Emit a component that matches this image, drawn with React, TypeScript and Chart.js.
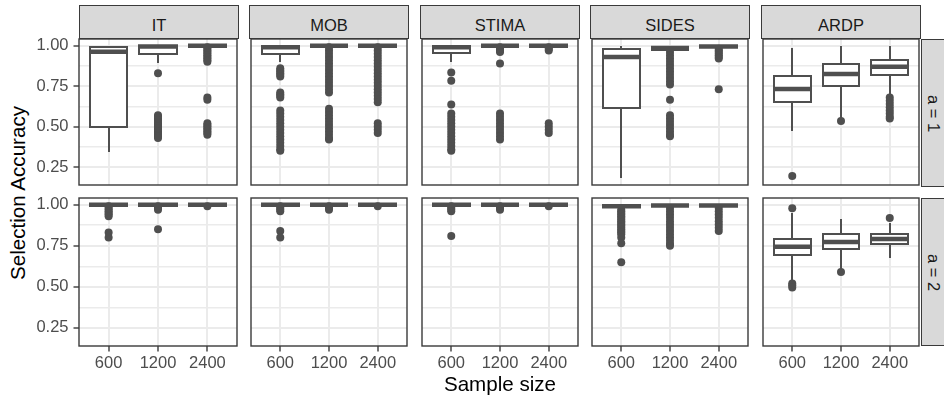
import React, { useEffect, useRef } from "react";
import { Chart, registerables } from "chart.js";

Chart.register(...registerables);

// ---------------- data ----------------
const methods = ["IT", "MOB", "STIMA", "SIDES", "ARDP"];
const sampleSizes = ["600", "1200", "2400"];
const rowLabels = ["a = 1", "a = 2"];
const xTitle = "Sample size";
const yTitle = "Selection Accuracy";
const yMajorTicks = [0.25, 0.5, 0.75, 1.0];
const yMinorTicks = [0.375, 0.625, 0.875];
const yAxisMin = 0.139;
const yAxisMax = 1.041;

// five-number summaries, per method (IT, MOB, STIMA, SIDES, ARDP) x sample size (600, 1200, 2400)
// a = 1
const lowA1 = [[0.34, 0.895, 1.0], [0.9, 1.0, 1.0], [0.9, 1.0, 1.0], [0.18, 0.965, 0.985], [0.47, 0.545, 0.7]];
const q1A1 = [[0.5, 0.95, 1.0], [0.95, 1.0, 1.0], [0.955, 1.0, 1.0], [0.615, 0.975, 0.99], [0.653, 0.749, 0.819]];
const medA1 = [[0.962, 0.995, 1.0], [0.99, 1.0, 1.0], [0.99, 1.0, 1.0], [0.93, 0.985, 0.995], [0.732, 0.824, 0.87]];
const q3A1 = [[0.99, 1.0, 1.0], [0.996, 1.0, 1.0], [0.998, 1.0, 1.0], [0.98, 0.99, 1.0], [0.811, 0.886, 0.911]];
const highA1 = [[1.0, 1.0, 1.0], [1.0, 1.0, 1.0], [1.0, 1.0, 1.0], [1.0, 1.0, 1.0], [0.986, 1.0, 1.0]];
// a = 2
const lowA2 = [[1.0, 1.0, 1.0], [1.0, 1.0, 1.0], [1.0, 1.0, 1.0], [0.98, 0.985, 0.985], [0.532, 0.602, 0.678]];
const q1A2 = [[1.0, 1.0, 1.0], [1.0, 1.0, 1.0], [1.0, 1.0, 1.0], [0.985, 0.99, 0.99], [0.694, 0.73, 0.759]];
const medA2 = [[1.0, 1.0, 1.0], [1.0, 1.0, 1.0], [1.0, 1.0, 1.0], [0.99, 0.995, 0.995], [0.744, 0.773, 0.791]];
const q3A2 = [[1.0, 1.0, 1.0], [1.0, 1.0, 1.0], [1.0, 1.0, 1.0], [0.995, 1.0, 1.0], [0.793, 0.82, 0.824]];
const highA2 = [[1.0, 1.0, 1.0], [1.0, 1.0, 1.0], [1.0, 1.0, 1.0], [1.0, 1.0, 1.0], [0.947, 0.911, 0.89]];

// outliers (a = 1), per sample size
const outA1IT = [
  [],
  [0.83, 0.57, 0.56, 0.55, 0.54, 0.53, 0.52, 0.51, 0.5, 0.49, 0.48, 0.47, 0.46, 0.45, 0.44, 0.43],
  [0.99, 0.98, 0.97, 0.96, 0.95, 0.94, 0.93, 0.92, 0.91, 0.9, 0.68, 0.665, 0.52, 0.51, 0.5, 0.49, 0.48, 0.47, 0.46, 0.45],
];
const outA1MOB = [
  [0.86, 0.85, 0.84, 0.83, 0.82, 0.81, 0.71, 0.7, 0.69, 0.68, 0.6, 0.58, 0.56, 0.54, 0.52, 0.5, 0.48, 0.46, 0.44, 0.42, 0.4, 0.38, 0.36, 0.35],
  [0.99, 0.97, 0.95, 0.93, 0.91, 0.89, 0.87, 0.85, 0.83, 0.81, 0.79, 0.77, 0.75, 0.73, 0.71, 0.61, 0.59, 0.57, 0.55, 0.53, 0.51, 0.49, 0.47, 0.45, 0.43, 0.42],
  [0.99, 0.97, 0.95, 0.93, 0.91, 0.89, 0.87, 0.85, 0.83, 0.81, 0.79, 0.77, 0.75, 0.73, 0.71, 0.69, 0.67, 0.65, 0.52, 0.5, 0.48, 0.46],
];
const outA1STIMA = [
  [0.834, 0.783, 0.637, 0.58, 0.56, 0.54, 0.52, 0.5, 0.48, 0.46, 0.44, 0.42, 0.4, 0.38, 0.36, 0.35],
  [0.99, 0.98, 0.97, 0.96, 0.89, 0.58, 0.56, 0.54, 0.52, 0.5, 0.48, 0.46, 0.44, 0.42],
  [0.99, 0.98, 0.97, 0.52, 0.5, 0.48, 0.46],
];
const outA1SIDES = [
  [],
  [0.96, 0.94, 0.92, 0.9, 0.88, 0.86, 0.84, 0.82, 0.8, 0.78, 0.76, 0.665, 0.57, 0.55, 0.53, 0.51, 0.49, 0.47, 0.45, 0.44],
  [0.98, 0.97, 0.96, 0.95, 0.94, 0.93, 0.92, 0.73],
];
const outA1ARDP = [[0.195], [0.535], [0.68, 0.66, 0.64, 0.62, 0.6, 0.58, 0.56, 0.55]];

// outliers (a = 2)
const outA2IT = [[0.99, 0.98, 0.97, 0.96, 0.95, 0.94, 0.93, 0.83, 0.8], [0.99, 0.98, 0.97, 0.85], [0.99]];
const outA2MOB = [[0.99, 0.98, 0.97, 0.96, 0.84, 0.8], [0.99, 0.98, 0.97], [0.99]];
const outA2STIMA = [[0.99, 0.98, 0.97, 0.96, 0.81], [0.99, 0.98, 0.97], [0.99]];
const outA2SIDES = [
  [0.97, 0.96, 0.95, 0.94, 0.93, 0.92, 0.91, 0.9, 0.89, 0.88, 0.87, 0.86, 0.85, 0.84, 0.83, 0.82, 0.8, 0.765, 0.65],
  [0.98, 0.96, 0.94, 0.92, 0.9, 0.88, 0.86, 0.84, 0.82, 0.8, 0.78, 0.76, 0.75],
  [0.98, 0.96, 0.94, 0.92, 0.9, 0.88, 0.86, 0.84],
];
const outA2ARDP = [[0.978, 0.52, 0.51, 0.495], [0.59], [0.919]];

const facetRows = [
  { low: lowA1, q1: q1A1, med: medA1, q3: q3A1, high: highA1, out: [outA1IT, outA1MOB, outA1STIMA, outA1SIDES, outA1ARDP] },
  { low: lowA2, q1: q1A2, med: medA2, q3: q3A2, high: highA2, out: [outA2IT, outA2MOB, outA2STIMA, outA2SIDES, outA2ARDP] },
];

// ---------------- style / layout ----------------
const FONT = "'Liberation Sans', Arial, Helvetica, sans-serif";
const INK = "#4f4f4f";
const BORDER = "#3a3a3a";
const GRID = "#EBEBEB";
const TICK_TEXT = "#4D4D4D";
const STRIP_FILL = "#D9D9D9";
const TICK_FONT = 16.5;
const TITLE_FONT = 20.6;

const PANEL_LEFTS = [79, 249, 420, 590, 761];
const PANEL_W = 160;
const PANEL_TOPS = [39, 198];
const PANEL_H = 148;
const STRIP_TOP = 5;
const STRIP_H = 34;
const RIGHT_STRIP_W = 24;
const Y_AXIS_LEFT = 30;
const X_AXIS_H = 36;
const TOP_PAD = 14;
const EDGE = 2;
const BOX_HALF = 0.375;

const isMajor = (v: number) => yMajorTicks.some((t) => Math.abs(t - v) < 1e-9);
const yGridValues = [...yMajorTicks, ...yMinorTicks].sort((a, b) => a - b);

function makeBoxPlugin(r: number, c: number) {
  const fr = facetRows[r];
  return {
    id: "boxes",
    afterDatasetsDraw(chart: any) {
      const { ctx, chartArea: a } = chart;
      const xs = chart.scales.x;
      const ys = chart.scales.y;
      const px = (v: number) => Math.round(xs.getPixelForValue(v));
      const py = (v: number) => Math.round(ys.getPixelForValue(v));
      ctx.save();
      ctx.beginPath();
      ctx.rect(a.left, a.top, a.right - a.left, a.bottom - a.top);
      ctx.clip();
      ctx.strokeStyle = INK;
      ctx.lineCap = "butt";
      for (let i = 0; i < sampleSizes.length; i++) {
        const cx = px(i + 1);
        const xl = px(i + 1 - BOX_HALF);
        const xr = px(i + 1 + BOX_HALF);
        const yLo = py(fr.low[c][i]);
        const yQ1 = py(fr.q1[c][i]);
        const yMed = ys.getPixelForValue(fr.med[c][i]);
        const yQ3 = py(fr.q3[c][i]);
        const yHi = py(fr.high[c][i]);
        ctx.lineWidth = 2;
        ctx.beginPath();
        ctx.moveTo(cx, yHi);
        ctx.lineTo(cx, yQ3);
        ctx.moveTo(cx, yQ1);
        ctx.lineTo(cx, yLo);
        ctx.stroke();
        ctx.fillStyle = "#ffffff";
        ctx.fillRect(xl, yQ3, xr - xl, yQ1 - yQ3);
        ctx.strokeRect(xl, yQ3, xr - xl, yQ1 - yQ3);
        ctx.lineWidth = 4.5;
        ctx.beginPath();
        ctx.moveTo(xl - 1, yMed);
        ctx.lineTo(xr + 1, yMed);
        ctx.stroke();
      }
      ctx.restore();
      ctx.save();
      ctx.strokeStyle = BORDER;
      ctx.lineWidth = 1.4;
      ctx.strokeRect(a.left, a.top, a.right - a.left, a.bottom - a.top);
      ctx.restore();
    },
  };
}

function Panel({ r, c }: { r: number; c: number }) {
  const ref = useRef<HTMLCanvasElement>(null);
  const showY = c === 0;
  const showX = r === facetRows.length - 1;
  const left = showY ? Y_AXIS_LEFT : PANEL_LEFTS[c] - EDGE;
  const top = PANEL_TOPS[r] - TOP_PAD;
  const right = PANEL_LEFTS[c] + PANEL_W + EDGE;
  const bottom = PANEL_TOPS[r] + PANEL_H + (showX ? X_AXIS_H : EDGE);
  const w = right - left;
  const h = bottom - top;

  useEffect(() => {
    const outs = facetRows[r].out[c];
    const points: { x: number; y: number }[] = [];
    outs.forEach((vals, i) => vals.forEach((v) => points.push({ x: i + 1, y: v })));
    const chart = new Chart(ref.current as HTMLCanvasElement, {
      type: "scatter",
      data: {
        datasets: [
          {
            data: points,
            pointRadius: 4,
            pointHoverRadius: 4,
            pointBackgroundColor: INK,
            pointBorderWidth: 0,
            borderWidth: 0,
          } as any,
        ],
      },
      options: {
        responsive: false,
        animation: false,
        events: [],
        layout: {
          padding: { left: showY ? 0 : EDGE, right: EDGE, top: TOP_PAD, bottom: showX ? 0 : EDGE },
        },
        plugins: { legend: { display: false }, tooltip: { enabled: false } },
        scales: {
          x: {
            type: "linear",
            min: 0.4,
            max: 3.6,
            afterBuildTicks: (s: any) => {
              s.ticks = sampleSizes.map((_, i) => ({ value: i + 1 }));
            },
            afterFit: (s: any) => {
              s.height = showX ? X_AXIS_H : 0;
              s.paddingLeft = 0;
              s.paddingRight = 0;
            },
            border: { display: false },
            grid: {
              color: GRID,
              lineWidth: 2,
              drawTicks: showX,
              tickLength: 5.5,
              tickColor: BORDER,
              tickWidth: 1.4,
            },
            ticks: {
              display: showX,
              autoSkip: false,
              maxRotation: 0,
              padding: 2,
              color: TICK_TEXT,
              font: { family: FONT, size: TICK_FONT },
              callback: (v: any) => sampleSizes[Math.round(Number(v)) - 1] ?? "",
            },
          },
          y: {
            type: "linear",
            min: yAxisMin,
            max: yAxisMax,
            afterBuildTicks: (s: any) => {
              s.ticks = yGridValues.map((v) => ({ value: v }));
            },
            afterFit: (s: any) => {
              s.width = showY ? PANEL_LEFTS[0] - Y_AXIS_LEFT : 0;
              s.paddingTop = 0;
              s.paddingBottom = 0;
            },
            border: { display: false },
            grid: {
              color: GRID,
              lineWidth: (ctx: any) => (isMajor(ctx.tick.value) ? 2 : 1.5),
              drawTicks: showY,
              tickLength: 5.5,
              tickColor: (ctx: any) => (isMajor(ctx.tick.value) ? BORDER : "rgba(0,0,0,0)"),
              tickWidth: (ctx: any) => (isMajor(ctx.tick.value) ? 1.4 : 0),
            } as any,
            ticks: {
              display: showY,
              autoSkip: false,
              padding: 5,
              color: TICK_TEXT,
              font: { family: FONT, size: TICK_FONT },
              callback: (v: any) => (isMajor(Number(v)) ? Number(v).toFixed(2) : ""),
            },
          },
        },
      } as any,
      plugins: [makeBoxPlugin(r, c)],
    });
    return () => chart.destroy();
  }, [r, c]);

  return (
    <canvas
      ref={ref}
      width={w}
      height={h}
      style={{ position: "absolute", left, top, width: w, height: h }}
    />
  );
}

export default function App() {
  return (
    <div
      style={{
        position: "absolute",
        left: 0,
        top: 0,
        width: 944,
        height: 403,
        overflow: "hidden",
        background: "#ffffff",
        fontFamily: FONT,
      }}
    >
      {methods.map((m, c) => (
        <div
          key={"strip" + m}
          style={{
            position: "absolute",
            left: PANEL_LEFTS[c],
            top: STRIP_TOP,
            width: PANEL_W,
            height: STRIP_H,
            boxSizing: "border-box",
            background: STRIP_FILL,
            border: "1px solid " + BORDER,
            color: "#1A1A1A",
            fontSize: TICK_FONT,
            display: "flex",
            alignItems: "center",
            justifyContent: "center",
            paddingTop: 7,
          }}
        >
          {m}
        </div>
      ))}
      {rowLabels.map((lab, r) => (
        <div
          key={"rstrip" + r}
          style={{
            position: "absolute",
            left: PANEL_LEFTS[4] + PANEL_W,
            top: PANEL_TOPS[r],
            width: RIGHT_STRIP_W,
            height: PANEL_H,
            boxSizing: "border-box",
            background: STRIP_FILL,
            borderTop: "1px solid " + BORDER,
            borderBottom: "1px solid " + BORDER,
            borderLeft: "1px solid " + BORDER,
            color: "#1A1A1A",
            fontSize: TICK_FONT,
            display: "flex",
            alignItems: "center",
            justifyContent: "center",
          }}
        >
          <span style={{ transform: "rotate(90deg)", whiteSpace: "nowrap", display: "inline-block" }}>{lab}</span>
        </div>
      ))}
      {facetRows.map((_, r) =>
        methods.map((m, c) => <Panel key={m + r} r={r} c={c} />)
      )}
      <div
        style={{
          position: "absolute",
          left: PANEL_LEFTS[0],
          width: PANEL_LEFTS[4] + PANEL_W - PANEL_LEFTS[0],
          top: 374,
          textAlign: "center",
          fontSize: TITLE_FONT,
          lineHeight: TITLE_FONT + "px",
          color: "#000000",
          whiteSpace: "nowrap",
        }}
      >
        {xTitle}
      </div>
      <div
        style={{
          position: "absolute",
          left: 18 - 200,
          top: 192.5 - 12,
          width: 400,
          height: 24,
          lineHeight: "24px",
          textAlign: "center",
          fontSize: TITLE_FONT,
          color: "#000000",
          transform: "rotate(-90deg)",
          whiteSpace: "nowrap",
        }}
      >
        {yTitle}
      </div>
    </div>
  );
}
